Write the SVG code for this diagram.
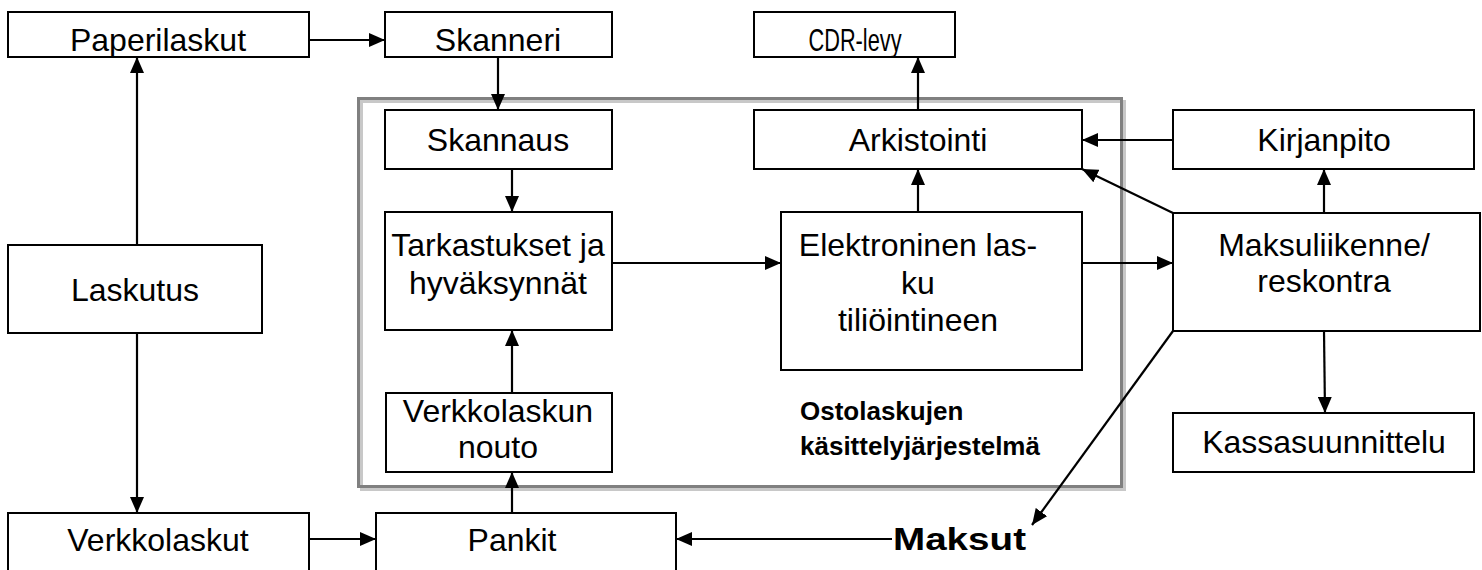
<svg xmlns="http://www.w3.org/2000/svg" width="1482" height="570" viewBox="0 0 1482 570">
  <style>
    .box { fill: #ffffff; stroke: #000000; stroke-width: 2; }
    .lbl { font-family: "Liberation Sans", Arial, sans-serif; font-size: 32px; fill: #000000; text-anchor: middle; }
    .bold { font-family: "Liberation Sans", Arial, sans-serif; font-weight: bold; font-size: 26px; fill: #000000; }
    .edge { stroke: #000000; stroke-width: 2.2; fill: none; marker-end: url(#arrow); }
  </style>
  <defs>
    <marker id="arrow" viewBox="0 0 16 14" refX="16" refY="7" markerWidth="16" markerHeight="14" markerUnits="userSpaceOnUse" orient="auto">
      <path d="M0,0 L16,7 L0,14 Z" fill="#000000"/>
    </marker>
  </defs>
  <rect width="1482" height="570" fill="#ffffff"/>

  <!-- system boundary: raised frame -->
  <g id="system-frame">
    <rect x="361.5" y="101.5" width="763" height="388" fill="none" stroke="#c8c8c8" stroke-width="3"/>
    <rect x="358.5" y="98.5" width="763" height="388" fill="none" stroke="#808080" stroke-width="3"/>
  </g>

  <g id="paperilaskut"><rect class="box" x="8" y="12" width="301" height="45"/><text class="lbl" x="158" y="51">Paperilaskut</text></g>
  <g id="skanneri"><rect class="box" x="385" y="12" width="227" height="45"/><text class="lbl" x="498" y="51">Skanneri</text></g>
  <g id="cdr-levy"><rect class="box" x="754" y="12" width="201" height="45"/><text class="lbl" x="855" y="51" textLength="93" lengthAdjust="spacingAndGlyphs">CDR-levy</text></g>
  <g id="skannaus"><rect class="box" x="385" y="110" width="227" height="59"/><text class="lbl" x="498" y="151">Skannaus</text></g>
  <g id="arkistointi"><rect class="box" x="754" y="110" width="328" height="59"/><text class="lbl" x="918" y="151">Arkistointi</text></g>
  <g id="kirjanpito"><rect class="box" x="1173" y="110" width="301" height="59"/><text class="lbl" x="1324" y="151">Kirjanpito</text></g>
  <g id="laskutus"><rect class="box" x="8" y="245" width="254" height="88"/><text class="lbl" x="135" y="301">Laskutus</text></g>
  <g id="tarkastukset"><rect class="box" x="385" y="212" width="227" height="118"/><text class="lbl" x="498" y="256">Tarkastukset ja</text><text class="lbl" x="498" y="294">hyväksynnät</text></g>
  <g id="elektroninen-lasku"><rect class="box" x="781" y="212" width="301" height="158"/><text class="lbl" x="918" y="256">Elektroninen las-</text><text class="lbl" x="918" y="294">ku</text><text class="lbl" x="918" y="331">tiliöintineen</text></g>
  <g id="maksuliikenne"><rect class="box" x="1173" y="213" width="307" height="118"/><text class="lbl" x="1324" y="256">Maksuliikenne/</text><text class="lbl" x="1324" y="292">reskontra</text></g>
  <g id="verkkolaskun-nouto"><rect class="box" x="386" y="393" width="226" height="79"/><text class="lbl" x="498" y="422">Verkkolaskun</text><text class="lbl" x="498" y="458">nouto</text></g>
  <g id="jarjestelma-otsikko"><text class="bold" x="800" y="420">Ostolaskujen</text><text class="bold" x="800" y="455">käsittelyjärjestelmä</text></g>
  <g id="kassasuunnittelu"><rect class="box" x="1173" y="413" width="301" height="59"/><text class="lbl" x="1324" y="453">Kassasuunnittelu</text></g>
  <g id="verkkolaskut"><rect class="box" x="8" y="513" width="301" height="70"/><text class="lbl" x="158" y="551">Verkkolaskut</text></g>
  <g id="pankit"><rect class="box" x="376" y="513" width="300" height="70"/><text class="lbl" x="512" y="551">Pankit</text></g>
  <g id="maksut"><text class="bold" x="893" y="550" style="font-size:31px" textLength="133" lengthAdjust="spacingAndGlyphs">Maksut</text></g>

  <g id="connectors">
    <line class="edge" x1="309" y1="40" x2="385" y2="40"/>
    <line class="edge" x1="498" y1="57" x2="498" y2="110"/>
    <line class="edge" x1="512" y1="169" x2="512" y2="212"/>
    <line class="edge" x1="512" y1="393" x2="512" y2="330"/>
    <line class="edge" x1="512" y1="513" x2="512" y2="472"/>
    <line class="edge" x1="612" y1="263" x2="781" y2="263"/>
    <line class="edge" x1="918" y1="212" x2="918" y2="169"/>
    <line class="edge" x1="918" y1="110" x2="918" y2="57"/>
    <line class="edge" x1="1082" y1="263" x2="1173" y2="263"/>
    <line class="edge" x1="1173" y1="140" x2="1082" y2="140"/>
    <line class="edge" x1="1173" y1="213" x2="1082" y2="169"/>
    <line class="edge" x1="1324" y1="213" x2="1324" y2="169"/>
    <line class="edge" x1="1324" y1="331" x2="1325" y2="413"/>
    <line class="edge" x1="1173" y1="331" x2="1032" y2="525"/>
    <line class="edge" x1="892" y1="539" x2="676" y2="539"/>
    <line class="edge" x1="137" y1="245" x2="137" y2="57"/>
    <line class="edge" x1="137" y1="333" x2="137" y2="513"/>
    <line class="edge" x1="309" y1="539" x2="376" y2="539"/>
  </g>
</svg>
